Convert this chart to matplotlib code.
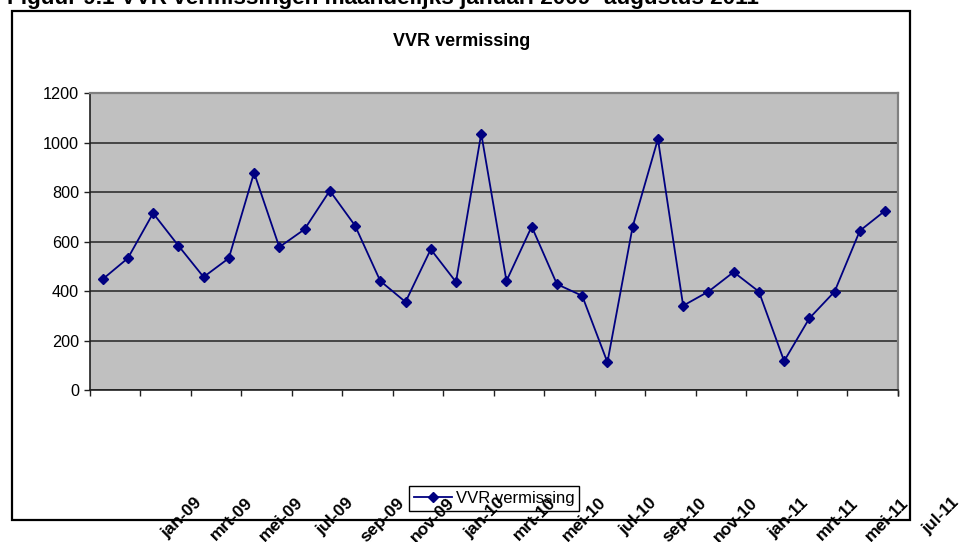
import numpy as np
import matplotlib
matplotlib.use("Agg")
import matplotlib.pyplot as plt
import matplotlib.transforms as mtransforms
from matplotlib.patches import Rectangle

plt.rcParams['font.family'] = ['Liberation Sans', 'DejaVu Sans']

fig_title = "Figuur 9.1 VVR vermissingen maandelijks januari 2009- augustus 2011"
chart_title = "VVR vermissing"
series_name = "VVR vermissing"

values = [448, 533, 715, 584, 457, 533, 879, 578, 650, 806, 665, 441,
          356, 569, 437, 1037, 441, 661, 428, 381, 112, 661, 1015, 341,
          398, 477, 398, 117, 290, 398, 644, 725]
tick_labels = ["jan-09", "mrt-09", "mei-09", "jul-09", "sep-09", "nov-09",
               "jan-10", "mrt-10", "mei-10", "jul-10", "sep-10", "nov-10",
               "jan-11", "mrt-11", "mei-11", "jul-11"]
y_ticks = [0, 200, 400, 600, 800, 1000, 1200]

W, H = 963, 542
fig = plt.figure(figsize=(W / 100, H / 100), dpi=100)
fig.patch.set_facecolor('white')

# outer chart frame
fig.add_artist(Rectangle((12 / W, 1 - 520 / H), (910 - 12) / W, (520 - 11) / H,
                         transform=fig.transFigure, fill=False,
                         edgecolor='black', lw=1.6, zorder=0))

ax = fig.add_axes([90 / W, 1 - 390 / H, 807.7 / W, (390 - 93.3) / H])
ax.set_facecolor('#C0C0C0')

x = np.arange(len(values))
ax.plot(x, values, color='#000080', lw=1.3, marker='D', markersize=5.5,
        markerfacecolor='#000080', markeredgecolor='#000080', label=series_name,
        zorder=3, clip_on=False)

ax.set_xlim(-0.5, len(values) - 0.5)
ax.set_ylim(0, 1200)
ax.set_yticks(y_ticks)
ax.set_yticklabels([str(v) for v in y_ticks], fontsize=11.7)
ax.yaxis.grid(True, color='#303030', lw=1.2)
ax.set_axisbelow(True)

boundaries = np.arange(-0.5, len(values), 2)
boundaries = np.append(boundaries, len(values) - 0.5)
ax.set_xticks(boundaries)
ax.set_xticklabels([])
ax.tick_params(axis='both', direction='out', length=4, width=1, color='#202020')
ax.tick_params(axis='y', pad=4)

for s in ['left', 'bottom']:
    ax.spines[s].set_color('#202020')
    ax.spines[s].set_linewidth(1.2)
for s in ['top', 'right']:
    ax.spines[s].set_color('#808080')
    ax.spines[s].set_linewidth(1.6)

# displaced category labels (as in the reference rendering)
trans = mtransforms.offset_copy(ax.get_xaxis_transform(), fig=fig,
                                x=115, y=-105, units='dots')
for pos, lab in zip(boundaries[:len(tick_labels)], tick_labels):
    fig.text(pos, 0, lab, transform=trans, rotation=45, ha='right', va='top',
             fontsize=12.5, fontweight='bold', zorder=10)

fig.text(462 / W, 1 - 41 / H, chart_title, ha='center', va='center',
         fontsize=13, fontweight='bold')
fig.text(7 / W, 1 - 4 / H, fig_title, ha='left', va='baseline',
         fontsize=16.2, fontweight='bold')

leg = fig.legend(loc='upper left', bbox_to_anchor=(409 / W, 1 - 486 / H),
                 borderaxespad=0, fontsize=12, frameon=True, fancybox=False,
                 edgecolor='black', framealpha=1, handlelength=2.3,
                 handletextpad=0.2, borderpad=0.3)
leg.get_frame().set_linewidth(1.0)
leg.set_zorder(5)

fig.savefig('out.png', dpi=100)
